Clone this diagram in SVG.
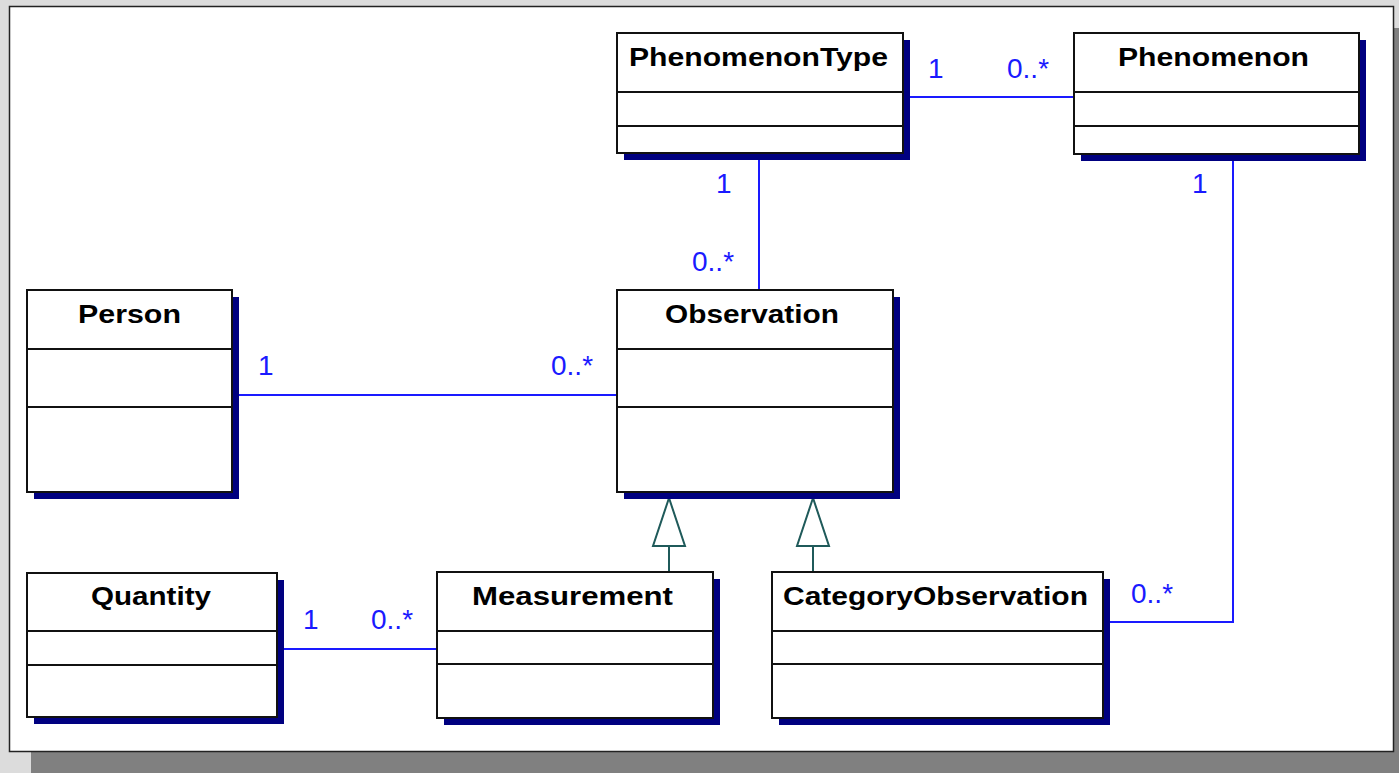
<svg xmlns="http://www.w3.org/2000/svg" width="1399" height="773" viewBox="0 0 1399 773">
<style>
.shadow{fill:#000080}
.box{fill:#fff;stroke:#111;stroke-width:2}
.div{stroke:#111;stroke-width:2}
.title{font-family:"Liberation Sans",Arial,sans-serif;font-weight:bold;font-size:26px;fill:#000;text-anchor:middle}
.mult{font-family:"Liberation Sans",Arial,sans-serif;font-size:28px;fill:#1a1aff}
.assoc{fill:none;stroke:#1a1aff;stroke-width:2}
.gen{fill:none;stroke:#1f5a5a;stroke-width:2}
.genhead{fill:#fff;stroke:#1f5a5a;stroke-width:2}
</style>
<rect x="0" y="0" width="1399" height="773" fill="#dcdcdc"/>
<rect x="31" y="28" width="1368" height="745" fill="#808080"/>
<rect x="9.5" y="6.5" width="1384" height="745" fill="#fff" stroke="#222" stroke-width="1.5"/>

<g id="connectors">
  <line class="assoc" x1="903" y1="97" x2="1074" y2="97"/>
  <line class="assoc" x1="759" y1="153" x2="759" y2="290"/>
  <line class="assoc" x1="232" y1="395" x2="617" y2="395"/>
  <line class="assoc" x1="277" y1="649" x2="437" y2="649"/>
  <polyline class="assoc" points="1233,154 1233,622 1103,622"/>
  <line class="gen" x1="669" y1="546" x2="669" y2="572"/>
  <polygon class="genhead" points="669,498 653,546 685,546"/>
  <line class="gen" x1="813" y1="546" x2="813" y2="572"/>
  <polygon class="genhead" points="813,498 797,546 829,546"/>
  <text class="mult" x="928" y="78">1</text>
  <text class="mult" x="1007" y="78">0..*</text>
  <text class="mult" x="716" y="193">1</text>
  <text class="mult" x="692" y="271">0..*</text>
  <text class="mult" x="1192" y="193">1</text>
  <text class="mult" x="258" y="375">1</text>
  <text class="mult" x="551" y="375">0..*</text>
  <text class="mult" x="303" y="629">1</text>
  <text class="mult" x="371" y="629">0..*</text>
  <text class="mult" x="1131" y="603">0..*</text>
</g>

<g id="PhenomenonType">
  <rect class="shadow" x="624" y="40" width="286" height="120"/>
  <rect class="box" x="617" y="33" width="286" height="120"/>
  <line class="div" x1="617" y1="92" x2="903" y2="92"/>
  <line class="div" x1="617" y1="126" x2="903" y2="126"/>
  <text class="title" x="758.5" y="66" textLength="259" lengthAdjust="spacingAndGlyphs">PhenomenonType</text>
</g>

<g id="Phenomenon">
  <rect class="shadow" x="1081" y="40" width="285" height="121"/>
  <rect class="box" x="1074" y="33" width="285" height="121"/>
  <line class="div" x1="1074" y1="92" x2="1359" y2="92"/>
  <line class="div" x1="1074" y1="126" x2="1359" y2="126"/>
  <text class="title" x="1213.5" y="66" textLength="191" lengthAdjust="spacingAndGlyphs">Phenomenon</text>
</g>

<g id="Person">
  <rect class="shadow" x="34" y="297" width="205" height="202"/>
  <rect class="box" x="27" y="290" width="205" height="202"/>
  <line class="div" x1="27" y1="349" x2="232" y2="349"/>
  <line class="div" x1="27" y1="407" x2="232" y2="407"/>
  <text class="title" x="129.5" y="323" textLength="103" lengthAdjust="spacingAndGlyphs">Person</text>
</g>

<g id="Observation">
  <rect class="shadow" x="624" y="297" width="276" height="202"/>
  <rect class="box" x="617" y="290" width="276" height="202"/>
  <line class="div" x1="617" y1="349" x2="893" y2="349"/>
  <line class="div" x1="617" y1="407" x2="893" y2="407"/>
  <text class="title" x="752" y="323" textLength="174" lengthAdjust="spacingAndGlyphs">Observation</text>
</g>

<g id="Quantity">
  <rect class="shadow" x="34" y="580" width="250" height="144"/>
  <rect class="box" x="27" y="573" width="250" height="144"/>
  <line class="div" x1="27" y1="631" x2="277" y2="631"/>
  <line class="div" x1="27" y1="665" x2="277" y2="665"/>
  <text class="title" x="151" y="605" textLength="120" lengthAdjust="spacingAndGlyphs">Quantity</text>
</g>

<g id="Measurement">
  <rect class="shadow" x="444" y="579" width="276" height="146"/>
  <rect class="box" x="437" y="572" width="276" height="146"/>
  <line class="div" x1="437" y1="631" x2="713" y2="631"/>
  <line class="div" x1="437" y1="664" x2="713" y2="664"/>
  <text class="title" x="572.5" y="605" textLength="201" lengthAdjust="spacingAndGlyphs">Measurement</text>
</g>

<g id="CategoryObservation">
  <rect class="shadow" x="779" y="579" width="331" height="146"/>
  <rect class="box" x="772" y="572" width="331" height="146"/>
  <line class="div" x1="772" y1="631" x2="1103" y2="631"/>
  <line class="div" x1="772" y1="664" x2="1103" y2="664"/>
  <text class="title" x="935.5" y="605" textLength="305" lengthAdjust="spacingAndGlyphs">CategoryObservation</text>
</g>
</svg>
